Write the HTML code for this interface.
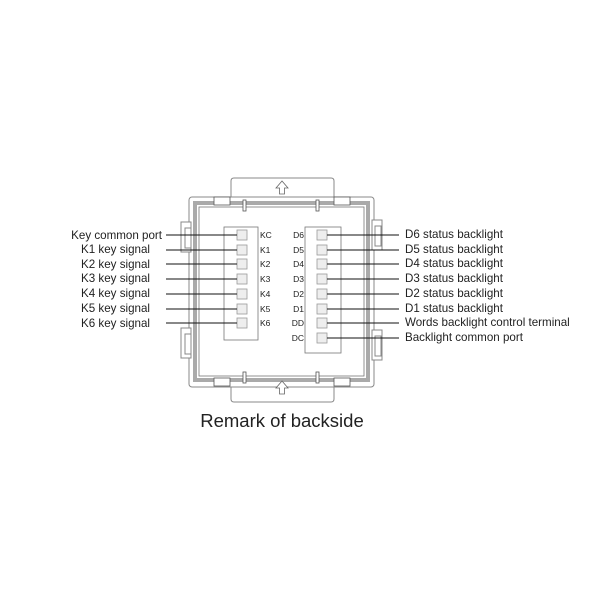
<!DOCTYPE html>
<html><head><meta charset="utf-8"><style>
html,body{margin:0;padding:0;background:#fff;width:600px;height:600px;overflow:hidden}
svg{display:block}
text{font-family:"Liberation Sans",Arial,sans-serif;fill:#222}
</style></head><body>
<svg width="600" height="600" viewBox="0 0 600 600" xmlns="http://www.w3.org/2000/svg">
<g fill="none" stroke="#888" stroke-width="1">
  <path d="M231 200 V181 Q231 178 234 178 H331 Q334 178 334 181 V200" fill="#fff"/>
  <path d="M231 380 V399 Q231 402 234 402 H331 Q334 402 334 399 V380" fill="#fff"/>
  <rect x="189" y="197" width="185" height="190" rx="3" fill="#fff"/>
  <rect x="181" y="222" width="10" height="30" fill="#fff"/>
  <rect x="185" y="228" width="6" height="20"/>
  <rect x="181" y="328" width="10" height="30" fill="#fff"/>
  <rect x="185" y="334" width="6" height="20"/>
  <rect x="372" y="220" width="10" height="30" fill="#fff"/>
  <rect x="375" y="226" width="6" height="20"/>
  <rect x="372" y="330" width="10" height="30" fill="#fff"/>
  <rect x="375" y="336" width="6" height="20"/>
</g>
<rect x="195" y="203" width="173" height="177" fill="none" stroke="#aaa" stroke-width="4"/>
<rect x="199" y="207" width="165" height="169" fill="#fff" stroke="#777" stroke-width="0.8"/>
<g fill="#fff" stroke="#555" stroke-width="0.8">
  <rect x="214" y="197" width="16" height="8"/>
  <rect x="334" y="197" width="16" height="8"/>
  <rect x="214" y="378" width="16" height="8"/>
  <rect x="334" y="378" width="16" height="8"/>
  <rect x="243" y="200" width="3" height="11"/>
  <rect x="316" y="200" width="3" height="11"/>
  <rect x="243" y="372" width="3" height="11"/>
  <rect x="316" y="372" width="3" height="11"/>
</g>
<g fill="#fff" stroke="#666" stroke-width="0.8">
  <path d="M282 181 L276 188 H279.5 V194 H284.5 V188 H288 Z"/>
  <path d="M282 381 L276 388 H279.5 V394 H284.5 V388 H288 Z"/>
</g>
<rect x="224" y="227" width="34" height="113" fill="#fff" stroke="#777" stroke-width="0.8"/>
<rect x="305" y="227" width="36" height="126" fill="#fff" stroke="#777" stroke-width="0.8"/>
<g fill="#eee" stroke="#999" stroke-width="0.8">
  <rect x="237" y="230" width="10" height="10"/><rect x="237" y="245" width="10" height="10"/>
  <rect x="237" y="259" width="10" height="10"/><rect x="237" y="274" width="10" height="10"/>
  <rect x="237" y="289" width="10" height="10"/><rect x="237" y="304" width="10" height="10"/>
  <rect x="237" y="318" width="10" height="10"/>
  <rect x="317" y="230" width="10" height="10"/><rect x="317" y="245" width="10" height="10"/>
  <rect x="317" y="259" width="10" height="10"/><rect x="317" y="274" width="10" height="10"/>
  <rect x="317" y="289" width="10" height="10"/><rect x="317" y="304" width="10" height="10"/>
  <rect x="317" y="318" width="10" height="10"/><rect x="317" y="333" width="10" height="10"/>
</g>
<g stroke="#111" stroke-width="1">
  <line x1="166" y1="235" x2="237" y2="235"/><line x1="166" y1="250" x2="237" y2="250"/>
  <line x1="166" y1="264" x2="237" y2="264"/><line x1="166" y1="279" x2="237" y2="279"/>
  <line x1="166" y1="294" x2="237" y2="294"/><line x1="166" y1="309" x2="237" y2="309"/>
  <line x1="166" y1="323" x2="237" y2="323"/>
  <line x1="327" y1="235" x2="399" y2="235"/><line x1="327" y1="250" x2="399" y2="250"/>
  <line x1="327" y1="264" x2="399" y2="264"/><line x1="327" y1="279" x2="399" y2="279"/>
  <line x1="327" y1="294" x2="399" y2="294"/><line x1="327" y1="309" x2="399" y2="309"/>
  <line x1="327" y1="323" x2="399" y2="323"/><line x1="327" y1="338" x2="399" y2="338"/>
</g>
<g font-size="8.5">
  <text x="260" y="238">KC</text><text x="260" y="253">K1</text><text x="260" y="267">K2</text>
  <text x="260" y="282">K3</text><text x="260" y="297">K4</text><text x="260" y="312">K5</text>
  <text x="260" y="326">K6</text>
</g>
<g font-size="8.5" text-anchor="end">
  <text x="304" y="238">D6</text><text x="304" y="253">D5</text><text x="304" y="267">D4</text>
  <text x="304" y="282">D3</text><text x="304" y="297">D2</text><text x="304" y="312">D1</text>
  <text x="304" y="326">DD</text><text x="304" y="341">DC</text>
</g>
<g font-size="11.6" text-anchor="end">
  <text x="162" y="239">Key common port</text><text x="150" y="253">K1 key signal</text>
  <text x="150" y="268">K2 key signal</text><text x="150" y="282">K3 key signal</text>
  <text x="150" y="297">K4 key signal</text><text x="150" y="312">K5 key signal</text>
  <text x="150" y="327">K6 key signal</text>
</g>
<g font-size="11.6">
  <text x="405" y="238">D6 status backlight</text><text x="405" y="253">D5 status backlight</text>
  <text x="405" y="267">D4 status backlight</text><text x="405" y="282">D3 status backlight</text>
  <text x="405" y="297">D2 status backlight</text><text x="405" y="312">D1 status backlight</text>
  <text x="405" y="326">Words backlight control terminal</text><text x="405" y="341">Backlight common port</text>
</g>
<text x="282" y="427" font-size="18.5" text-anchor="middle">Remark of backside</text>
</svg>
</body></html>
